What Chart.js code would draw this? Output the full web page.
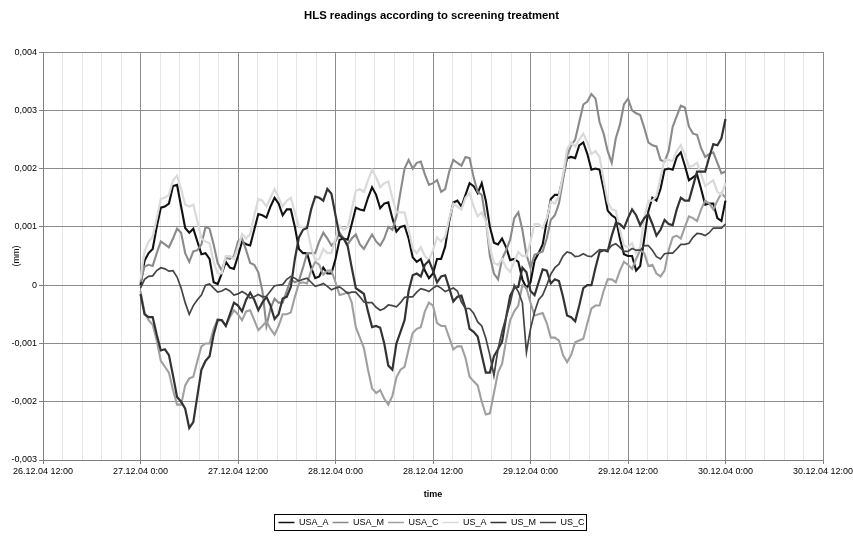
<!DOCTYPE html>
<html>
<head>
<meta charset="utf-8">
<script src="https://cdn.jsdelivr.net/npm/chart.js@4/dist/chart.umd.min.js"></script>
<style>
  html, body { margin: 0; padding: 0; background: #ffffff; }
  #wrap { width: 853px; height: 538px; }
</style>
</head>
<body>
<div id="wrap"><canvas id="chart" width="853" height="538"></canvas></div>
<script>
// Reading times, hours after 27.12.04 0:00 (one reading every half hour)
const hours = [
  0,0.5,1,1.5,2,2.5,3,3.5,4,4.5,5,5.5,6,6.5,7,7.5,8,8.5,9,9.5,10,10.5,11,11.5,
  12,12.5,13,13.5,14,14.5,15,15.5,16,16.5,17,17.5,18,18.5,19,19.5,20,20.5,21,21.5,22,22.5,23,23.5,
  24,24.5,25,25.5,26,26.5,27,27.5,28,28.5,29,29.5,30,30.5,31,31.5,32,32.5,33,33.5,34,34.5,35,35.5,
  36,36.5,37,37.5,38,38.5,39,39.5,40,40.5,41,41.5,42,42.5,43,43.5,44,44.5,45,45.5,46,46.5,47,47.5,
  48,48.5,49,49.5,50,50.5,51,51.5,52,52.5,53,53.5,54,54.5,55,55.5,56,56.5,57,57.5,58,58.5,59,59.5,
  60,60.5,61,61.5,62,62.5,63,63.5,64,64.5,65,65.5,66,66.5,67,67.5,68,68.5,69,69.5,70,70.5,71,71.5,
  72];

// HLS readings per treatment, in micrometres (0.001 mm)
const usaA = [
  0.0,0.42,0.55,0.62,1.0,1.33,1.35,1.40,1.7,1.72,1.35,0.98,0.9,0.97,0.75,0.53,0.55,0.45,0.05,0.02,0.2,0.40,0.3,0.28,
  0.5,0.75,0.7,0.68,0.95,1.22,1.2,1.16,1.35,1.50,1.4,1.20,1.3,1.30,1.0,0.62,0.55,0.55,0.3,0.12,0.15,0.30,0.2,0.20,
  0.45,0.78,0.8,0.78,1.05,1.33,1.3,1.28,1.5,1.68,1.55,1.32,1.4,1.42,1.15,0.92,1.0,1.02,0.8,0.48,0.4,0.45,0.25,0.12,
  0.2,0.45,0.45,0.66,1.1,1.42,1.45,1.35,1.55,1.75,1.7,1.58,1.75,1.45,1.0,0.73,0.7,0.80,0.65,0.43,0.45,0.40,0.1,-0.05,
  0.05,0.42,0.55,0.70,1.1,1.48,1.55,1.55,1.85,2.18,2.2,2.18,2.4,2.45,2.25,1.98,2.0,1.98,1.65,1.28,1.2,1.15,0.8,0.53,
  0.5,0.50,0.25,0.33,0.8,1.27,1.5,1.45,1.65,1.98,2.0,1.98,2.2,2.28,2.05,1.80,1.85,1.90,1.65,1.38,1.4,1.40,1.15,1.10,
  1.45];
const usaM = [
  0.05,0.32,0.35,0.33,0.55,0.75,0.7,0.65,0.8,0.97,0.9,0.55,0.4,0.58,0.6,0.70,1.0,0.97,0.7,0.38,0.25,0.47,0.45,0.50,
  0.75,0.80,0.6,0.38,0.35,0.22,-0.1,-0.70,-0.4,-0.23,-0.3,-0.30,-0.1,0.10,0.05,0.08,0.3,0.55,0.55,0.55,0.75,0.90,0.8,0.68,
  0.75,0.90,0.8,0.70,0.8,0.87,0.7,0.62,0.75,0.87,0.75,0.68,0.8,1.00,0.95,1.18,1.6,2.0,2.15,2.0,2.1,2.12,1.9,1.72,
  1.75,1.80,1.6,1.65,1.95,2.15,2.1,2.05,2.2,2.18,1.85,1.60,1.55,1.12,0.5,0.20,0.1,0.45,0.6,0.78,1.15,1.25,0.95,0.52,
  0.3,0.52,0.55,0.58,0.8,1.12,1.2,1.40,1.8,2.22,2.4,2.50,2.8,3.10,3.15,3.28,3.2,2.80,2.6,2.30,2.1,2.52,2.75,3.10,
  3.2,3.00,2.95,2.92,2.7,2.45,2.4,2.38,2.15,2.12,2.3,2.72,2.9,3.08,3.05,2.72,2.6,2.58,2.35,2.20,2.25,2.28,2.1,1.92,
  1.95];
const usaC = [
  -0.1,-0.47,-0.6,-0.68,-0.95,-1.30,-1.4,-1.50,-1.8,-2.05,-2.05,-1.72,-1.6,-1.57,-1.3,-1.05,-1.0,-1.00,-0.75,-0.58,-0.6,-0.70,-0.55,-0.43,
  -0.5,-0.60,-0.45,-0.43,-0.6,-0.77,-0.7,-0.62,-0.75,-0.85,-0.7,-0.50,-0.5,-0.47,-0.2,0.03,0.05,0.03,0.25,0.40,0.35,0.18,0.25,0.25,
  0.05,-0.17,-0.15,-0.12,-0.3,-0.72,-0.9,-1.08,-1.45,-1.77,-1.85,-1.80,-1.95,-2.05,-1.9,-1.58,-1.45,-1.40,-1.1,-0.82,-0.75,-0.72,-0.45,-0.30,
  -0.35,-0.65,-0.7,-0.70,-0.9,-1.10,-1.05,-1.05,-1.25,-1.57,-1.65,-1.72,-2.0,-2.22,-2.2,-1.85,-1.5,-1.35,-0.95,-0.60,-0.45,-0.35,0.0,-0.05,
  -0.3,-0.52,-0.5,-0.48,-0.65,-0.90,-0.9,-0.95,-1.2,-1.32,-1.2,-0.98,-0.95,-0.92,-0.65,-0.40,-0.35,-0.35,-0.1,0.10,0.1,0.05,0.25,0.40,
  0.35,0.28,0.45,0.60,0.55,0.33,0.35,0.20,0.15,0.25,0.6,0.82,0.85,0.80,1.0,1.18,1.15,1.10,1.3,1.45,1.4,1.30,1.45,1.58,
  1.5];
const usA = [
  0.1,0.58,0.75,0.83,1.15,1.48,1.5,1.55,1.8,1.88,1.65,1.38,1.35,1.38,1.1,0.80,0.75,0.72,0.4,0.20,0.2,0.50,0.5,0.45,
  0.65,0.88,0.8,0.88,1.2,1.48,1.45,1.35,1.5,1.65,1.5,1.35,1.45,1.50,1.25,1.00,1.0,0.98,0.65,0.43,0.45,0.62,0.55,0.55,
  0.8,1.02,0.95,1.00,1.3,1.62,1.65,1.60,1.8,1.98,1.85,1.68,1.75,1.78,1.5,1.25,1.25,1.25,0.95,0.63,0.55,0.65,0.5,0.43,
  0.6,0.82,0.75,0.83,1.15,1.40,1.35,1.30,1.5,1.58,1.35,1.18,1.25,1.10,0.65,0.38,0.35,0.45,0.3,0.23,0.4,0.57,0.5,0.50,
  0.75,1.05,1.05,0.98,1.15,1.43,1.4,1.53,1.9,2.33,2.45,2.38,2.5,2.60,2.45,2.25,2.3,2.20,1.8,1.43,1.3,1.28,0.95,0.68,
  0.65,0.72,0.55,0.65,1.15,1.45,1.45,1.53,1.85,2.15,2.15,2.13,2.3,2.40,2.25,2.03,2.05,2.10,1.9,1.70,1.75,1.80,1.6,1.55,
  1.75];
const usM = [
  -0.15,-0.50,-0.55,-0.55,-0.85,-1.12,-1.1,-1.20,-1.55,-1.92,-2.0,-2.12,-2.45,-2.35,-1.9,-1.45,-1.3,-1.22,-0.85,-0.60,-0.6,-0.70,-0.5,-0.30,
  -0.35,-0.45,-0.25,-0.13,-0.25,-0.43,-0.3,-0.20,-0.35,-0.58,-0.5,-0.23,-0.2,-0.03,0.45,0.82,0.95,0.98,1.3,1.52,1.5,1.45,1.65,1.57,
  1.2,0.85,0.8,0.67,0.3,-0.05,-0.1,-0.15,-0.45,-0.72,-0.7,-0.73,-1.0,-1.38,-1.45,-1.00,-0.8,-0.60,-0.1,0.17,0.2,0.15,0.35,0.42,
  0.25,0.05,0.15,0.17,-0.05,-0.28,-0.2,-0.18,-0.4,-0.75,-0.8,-0.88,-1.2,-1.50,-1.5,-1.22,-1.1,-0.97,-0.55,-0.18,-0.05,-0.03,0.3,0.22,
  -0.1,-0.17,0.05,0.27,0.25,0.03,0.1,0.07,-0.2,-0.52,-0.55,-0.62,-0.35,-0.05,0.0,0.00,0.3,0.57,0.6,0.58,0.85,1.07,1.05,0.98,
  1.15,1.30,1.2,1.03,1.15,1.22,1.05,0.85,0.95,1.12,1.05,1.03,1.3,1.50,1.45,1.45,1.7,1.95,1.95,1.95,2.2,2.42,2.4,2.52,
  2.85];
const usC = [
  -0.05,0.10,0.15,0.16,0.25,0.30,0.28,0.24,0.25,0.14,-0.05,-0.30,-0.5,-0.35,-0.25,-0.17,0.0,0.02,-0.05,-0.12,-0.1,-0.06,-0.1,-0.17,
  -0.15,-0.11,-0.15,-0.22,-0.2,-0.16,-0.2,-0.19,-0.1,-0.01,0.0,0.01,0.1,0.15,0.12,0.07,0.1,0.12,0.05,-0.02,0.0,0.03,-0.02,-0.08,
  -0.05,-0.03,-0.08,-0.14,-0.12,-0.12,-0.2,-0.29,-0.3,-0.30,-0.38,-0.43,-0.4,-0.34,-0.35,-0.37,-0.3,-0.21,-0.2,-0.20,-0.12,-0.06,-0.08,-0.11,
  -0.05,-0.01,-0.05,-0.11,-0.08,-0.05,-0.1,-0.29,-0.4,-0.40,-0.48,-0.63,-0.7,-0.91,-1.2,-1.55,-1.1,-0.79,-0.55,-0.31,0.0,-0.11,-0.3,-1.15,
  -0.75,-0.46,-0.25,-0.17,0.0,0.19,0.3,0.36,0.5,0.57,0.55,0.49,0.5,0.54,0.5,0.49,0.55,0.61,0.6,0.60,0.68,0.71,0.65,0.58,
  0.58,0.63,0.6,0.60,0.68,0.68,0.6,0.49,0.45,0.54,0.55,0.55,0.62,0.70,0.7,0.72,0.82,0.89,0.88,0.85,0.9,0.98,0.98,0.98,
  1.05];

// Axis labels
const xTickHours = [-12, 0, 12, 24, 36, 48, 60, 72, 84];
const xTickLabels = ['26.12.04 12:00','27.12.04 0:00','27.12.04 12:00','28.12.04 0:00','28.12.04 12:00',
  '29.12.04 0:00','29.12.04 12:00','30.12.04 0:00','30.12.04 12:00'];
const yTickLabels = ['-0,003','-0,002','-0,001','0','0,001','0,002','0,003','0,004'];

const seriesNames = ['USA_A','USA_M','USA_C','US_A','US_M','US_C'];
const seriesValues = [usaA, usaM, usaC, usA, usM, usC];
const seriesColors = ['#111111','#8a8a8a','#a0a0a0','#dadada','#333333','#454545'];
const seriesWidths = [2.1, 2.1, 2.1, 2.2, 2.2, 1.7];

Chart.defaults.font.family = "'Liberation Sans', Arial, sans-serif";
Chart.defaults.color = '#000000';

const isMajorHour = v => Math.abs(v / 12 - Math.round(v / 12)) < 1e-6;

// Thin frame around the legend row
const legendFrame = {
  id: 'legendFrame',
  afterDraw(chart) {
    const boxes = chart.legend && chart.legend.legendHitBoxes;
    if (!boxes || !boxes.length) return;
    let l = Infinity, r = -Infinity, t = Infinity, b = -Infinity;
    boxes.forEach(h => {
      l = Math.min(l, h.left); r = Math.max(r, h.left + h.width);
      t = Math.min(t, h.top); b = Math.max(b, h.top + h.height);
    });
    const ctx = chart.ctx;
    ctx.save();
    ctx.strokeStyle = '#000000';
    ctx.lineWidth = 1;
    ctx.strokeRect(Math.round(l - 4) + 0.5, Math.round(t - 4) + 0.5, Math.round(r - l + 6), Math.round(b - t + 7));
    ctx.restore();
  }
};

const datasets = seriesNames.map((name, i) => ({
  label: name,
  data: seriesValues[i].map((v, k) => ({ x: hours[k], y: v / 1000 })),
  borderColor: seriesColors[i],
  backgroundColor: seriesColors[i],
  borderWidth: seriesWidths[i],
  pointRadius: 0,
  tension: 0,
  fill: false,
  order: seriesNames.length - i
}));

new Chart(document.getElementById('chart'), {
  type: 'line',
  data: { datasets },
  options: {
    responsive: false,
    animation: false,
    events: [],
    layout: { padding: { left: 10, right: 0, top: 0, bottom: 1 } },
    plugins: {
      title: {
        display: true,
        text: 'HLS readings according to screening treatment',
        color: '#000000',
        font: { size: 11.3, weight: 'bold' },
        padding: { top: 9, bottom: 29.5 }
      },
      legend: {
        position: 'bottom',
        labels: {
          usePointStyle: true,
          pointStyle: 'line',
          pointStyleWidth: 16,
          boxHeight: 9,
          padding: 4,
          color: '#000000',
          font: { size: 9 },
          sort: (a, b) => a.datasetIndex - b.datasetIndex,
          generateLabels: chart => Chart.defaults.plugins.legend.labels.generateLabels(chart)
            .map(item => Object.assign(item, { lineWidth: 1.5 }))
        }
      },
      tooltip: { enabled: false }
    },
    scales: {
      x: {
        type: 'linear',
        min: -12,
        max: 84,
        ticks: {
          stepSize: 2.4,
          autoSkip: false,
          maxRotation: 0,
          minRotation: 0,
          padding: 2,
          color: '#000000',
          font: { size: 9 },
          callback: v => isMajorHour(v) ? xTickLabels[xTickHours.indexOf(Math.round(v))] : ''
        },
        grid: {
          color: c => (c.tick && isMajorHour(c.tick.value)) ? '#8c8c8c' : '#e6e6e6',
          tickColor: c => (c.tick && isMajorHour(c.tick.value)) ? '#808080' : 'rgba(0,0,0,0)',
          tickLength: 4,
          lineWidth: 1
        },
        border: { display: true, color: '#808080' },
        title: {
          display: true,
          text: 'time',
          color: '#000000',
          font: { size: 9, weight: 'bold' },
          padding: { top: 0, bottom: 14 }
        },
        afterFit: s => {
          s.height = 538 - 1 - s.chart.legend.height - 460;
          s.paddingLeft = 0;
          s.paddingRight = 30;
        }
      },
      y: {
        min: -0.003,
        max: 0.004,
        ticks: {
          stepSize: 0.001,
          padding: 2,
          color: '#000000',
          font: { size: 9 },
          callback: v => yTickLabels[Math.round(v * 1000) + 3]
        },
        grid: { color: '#8c8c8c', tickColor: '#808080', tickLength: 4, lineWidth: 1 },
        border: { display: true, color: '#808080' },
        title: {
          display: true,
          text: '(mm)',
          color: '#000000',
          font: { size: 9 },
          padding: { top: 1, bottom: 0 }
        },
        afterFit: s => { s.width = 33; }
      }
    }
  },
  plugins: [legendFrame]
});
</script>
</body>
</html>
